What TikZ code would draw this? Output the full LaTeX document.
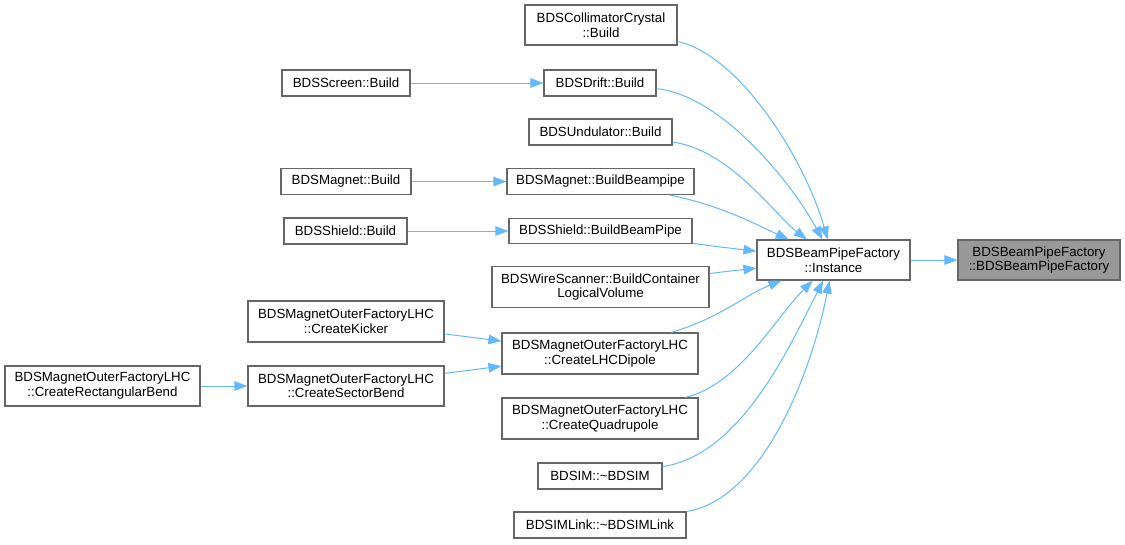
\documentclass[tikz,border=0pt]{standalone}
\usepackage{fontspec}
\setmainfont{Liberation Sans}
\usetikzlibrary{arrows.meta}
\definecolor{edgeblue}{HTML}{63B8FF}
\definecolor{boxgray}{HTML}{666666}
\definecolor{tgtfill}{HTML}{999999}
\tikzset{
  fn/.style={draw=boxgray, line width=1.1pt, fill=white, rectangle, inner sep=0pt, align=center,
    font=\fontsize{13.3}{14.8}\selectfont, text=black},
  tgt/.style={fn, fill=tgtfill},
  call/.style={draw=edgeblue, line width=1pt, -{Triangle[length=13pt,width=9.5pt]}},
}
\begin{document}
\begin{tikzpicture}[x=1pt,y=-1pt]
\useasboundingbox (0,0) rectangle (1125,544);
% nodes
\node[fn, minimum width=152pt, minimum height=40pt] (coll) at (601,25) {BDSCollimatorCrystal\\::Build};
\node[fn, minimum width=112pt, minimum height=26pt] (drift) at (600,83) {BDSDrift::Build};
\node[fn, minimum width=128pt, minimum height=26pt] (screen) at (346,83) {BDSScreen::Build};
\node[fn, minimum width=143pt, minimum height=26pt] (und) at (600.5,132) {BDSUndulator::Build};
\node[fn, minimum width=130pt, minimum height=26pt] (magb) at (346,181.5) {BDSMagnet::Build};
\node[fn, minimum width=187pt, minimum height=26pt] (magbp) at (600.5,181.5) {BDSMagnet::BuildBeampipe};
\node[fn, minimum width=123pt, minimum height=26pt] (shb) at (345.5,231) {BDSShield::Build};
\node[fn, minimum width=183pt, minimum height=25pt] (shbp) at (600.5,231) {BDSShield::BuildBeamPipe};
\node[fn, minimum width=153pt, minimum height=40pt] (inst) at (833.5,260) {BDSBeamPipeFactory\\::Instance};
\node[tgt, minimum width=162pt, minimum height=40pt] (target) at (1039,260) {BDSBeamPipeFactory\\::BDSBeamPipeFactory};
\node[fn, minimum width=217pt, minimum height=41pt] (wire) at (600.5,287) {BDSWireScanner::BuildContainer\\LogicalVolume};
\node[fn, minimum width=196pt, minimum height=41pt] (kick) at (346,321.5) {BDSMagnetOuterFactoryLHC\\::CreateKicker};
\node[fn, minimum width=196pt, minimum height=41pt] (lhc) at (600,353.5) {BDSMagnetOuterFactoryLHC\\::CreateLHCDipole};
\node[fn, minimum width=196pt, minimum height=40pt] (sect) at (346,386) {BDSMagnetOuterFactoryLHC\\::CreateSectorBend};
\node[fn, minimum width=195pt, minimum height=40pt] (rect) at (102.5,386) {BDSMagnetOuterFactoryLHC\\::CreateRectangularBend};
\node[fn, minimum width=196pt, minimum height=41pt] (quad) at (600,418.5) {BDSMagnetOuterFactoryLHC\\::CreateQuadrupole};
\node[fn, minimum width=124pt, minimum height=26pt] (bdsim) at (600,476) {BDSIM::\textasciitilde BDSIM};
\node[fn, minimum width=172pt, minimum height=26pt] (link) at (600,525) {BDSIMLink::\textasciitilde BDSIMLink};
% edges
\draw[call] (inst) -- (target);
\draw[call] (coll) .. controls (740,55) and (805,160) .. (inst);
\draw[call] (drift) .. controls (720,95) and (790,180) .. (inst);
\draw[call] (und) .. controls (730,150) and (775,215) .. (inst);
\draw[call] (magbp) .. controls (720,205) and (755,224) .. (inst);
\draw[call] (shbp) .. controls (720,247) .. (inst);
\draw[call] (wire) .. controls (730,271) .. (inst);
\draw[call] (lhc) .. controls (720,318) and (745,295) .. (inst);
\draw[call] (quad) .. controls (740,384) and (775,318) .. (inst);
\draw[call] (bdsim) .. controls (740,455) and (788,350) .. (inst);
\draw[call] (link) .. controls (760,500) and (810,380) .. (inst);
\draw[call] (screen) -- (drift);
\draw[call] (magb) -- (magbp);
\draw[call] (shb) -- (shbp);
\draw[call] (kick) -- (lhc);
\draw[call] (sect) -- (lhc);
\draw[call] (rect) -- (sect);
\end{tikzpicture}
\end{document}
